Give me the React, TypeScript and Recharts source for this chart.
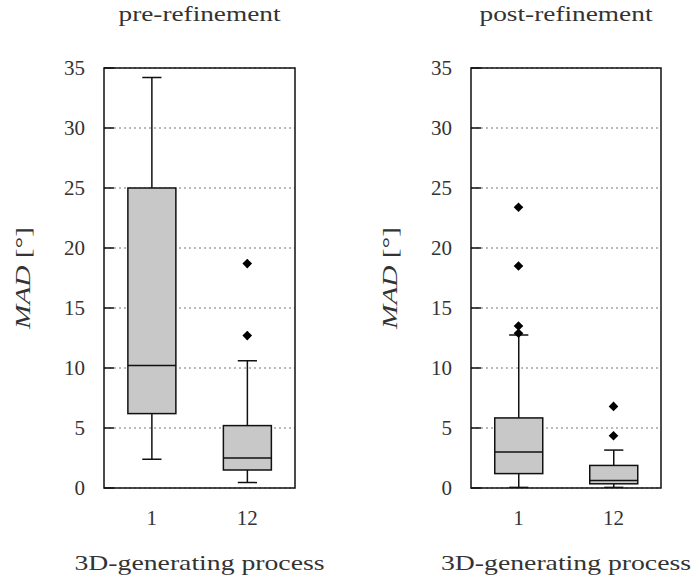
import {
  ComposedChart,
  Bar,
  Scatter,
  XAxis,
  YAxis,
  CartesianGrid,
  ReferenceArea,
  Label,
} from "recharts";

const categories = ["1", "12"];
const yTicks = [0, 5, 10, 15, 20, 25, 30, 35];

// pre-refinement boxes
const preLow = [2.4, 0.45];
const preQ1 = [6.2, 1.5];
const preMedian = [10.2, 2.5];
const preQ3 = [25.0, 5.2];
const preHigh = [34.2, 10.6];
const preOutlierCats = ["12", "12"];
const preOutlierValues = [12.7, 18.7];

// post-refinement boxes
const postLow = [0.05, 0.05];
const postQ1 = [1.2, 0.35];
const postMedian = [3.0, 0.63];
const postQ3 = [5.84, 1.88];
const postHigh = [12.75, 3.16];
const postOutlierCats = ["1", "1", "1", "1", "12", "12"];
const postOutlierValues = [12.9, 13.5, 18.5, 23.4, 4.35, 6.8];

const FONT = "'Liberation Serif', serif";
const TEXT = "#333";

const buildBoxes = (low, q1, med, q3, high) =>
  categories.map((name, i) => ({
    name,
    low: low[i],
    q1: q1[i],
    median: med[i],
    q3: q3[i],
    high: high[i],
  }));

const buildOutliers = (cats, values) =>
  cats.map((name, i) => ({ name, value: values[i] }));

// bar is drawn as range [low, high]; the inner values follow the same linear scale
function BoxShape(props: any) {
  const { x, y, width, height, payload } = props;
  const { low, q1, median, q3, high } = payload;
  const k = height / (high - low);
  const py = (v: number) => y + (high - v) * k;
  const cx = x + width / 2;
  const cap = width * 0.2;
  return (
    <g stroke="#111" strokeWidth={1.5}>
      <line x1={cx} x2={cx} y1={py(high)} y2={py(q3)} />
      <line x1={cx} x2={cx} y1={py(q1)} y2={py(low)} />
      <line x1={cx - cap} x2={cx + cap} y1={py(high)} y2={py(high)} />
      <line x1={cx - cap} x2={cx + cap} y1={py(low)} y2={py(low)} />
      <rect x={x} y={py(q3)} width={width} height={py(q1) - py(q3)} fill="#c8c8c8" />
      <line x1={x} x2={x + width} y1={py(median)} y2={py(median)} />
    </g>
  );
}

function Diamond(props: any) {
  const { cx, cy } = props;
  const r = 4.8;
  return (
    <polygon
      points={`${cx},${cy - r} ${cx + r},${cy} ${cx},${cy + r} ${cx - r},${cy}`}
      fill="#000"
    />
  );
}

function YLabel(props: any) {
  const { viewBox } = props;
  const x = viewBox.x + 23;
  const y = viewBox.y + viewBox.height / 2;
  return (
    <text
      x={x}
      y={y}
      transform={`rotate(-90 ${x} ${y})`}
      textAnchor="middle"
      dominantBaseline="central"
      fontFamily={FONT}
      fontSize={21}
      fill={TEXT}
      textLength={102}
      lengthAdjust="spacingAndGlyphs"
    >
      <tspan fontStyle="italic">MAD</tspan>
      <tspan> [°]</tspan>
    </text>
  );
}

function XLabel(props: any) {
  const { viewBox } = props;
  return (
    <text
      x={viewBox.x + viewBox.width / 2}
      y={viewBox.y + 82}
      textAnchor="middle"
      fontFamily={FONT}
      fontSize={21}
      fill={TEXT}
      textLength={250}
      lengthAdjust="spacingAndGlyphs"
    >
      3D-generating process
    </text>
  );
}

function Panel({ title, titleWidth, boxes, outliers, left, marginLeft, marginRight }) {
  const plotLeft = marginLeft + 104;
  const plotRight = 346 - marginRight;
  return (
    <div style={{ position: "absolute", left, top: 0, width: 346, height: 576 }}>
      <svg
        width={346}
        height={40}
        style={{ position: "absolute", left: 0, top: 0 }}
      >
        <text
          x={(plotLeft + plotRight) / 2}
          y={21}
          textAnchor="middle"
          fontFamily={FONT}
          fontSize={21}
          fill={TEXT}
          textLength={titleWidth}
          lengthAdjust="spacingAndGlyphs"
        >
          {title}
        </text>
      </svg>
      <ComposedChart
        width={346}
        height={576}
        data={boxes}
        margin={{ top: 68, right: marginRight, bottom: 28, left: marginLeft }}
        barCategoryGap="25%"
      >
        <CartesianGrid
          vertical={false}
          stroke="#777"
          strokeDasharray="2 3"
          strokeWidth={1}
        />
        <XAxis
          dataKey="name"
          type="category"
          allowDuplicatedCategory={false}
          axisLine={false}
          tickLine={false}
          tickSize={0}
          tickMargin={22}
          height={60}
          tick={{ fill: TEXT, fontSize: 21, fontFamily: FONT }}
        >
          <Label content={<XLabel />} />
        </XAxis>
        <YAxis
          type="number"
          domain={[0, 35]}
          ticks={yTicks}
          allowDataOverflow
          width={104}
          axisLine={false}
          tickSize={-10}
          tickMargin={29}
          tickLine={{ stroke: "#111", strokeWidth: 1.5 }}
          tick={{ fill: TEXT, fontSize: 21, fontFamily: FONT }}
        >
          <Label content={<YLabel />} />
        </YAxis>
        <Bar
          dataKey={(d) => [d.low, d.high]}
          shape={<BoxShape />}
          isAnimationActive={false}
        />
        <Scatter
          data={outliers}
          dataKey="value"
          shape={<Diamond />}
          isAnimationActive={false}
        />
        <ReferenceArea
          y1={0}
          y2={35}
          fill="none"
          stroke="#111"
          strokeWidth={1.5}
          fillOpacity={0}
          ifOverflow="visible"
        />
      </ComposedChart>
    </div>
  );
}

export default function App() {
  return (
    <div
      style={{
        position: "absolute",
        left: 0,
        top: 0,
        width: 692,
        height: 576,
        background: "#fff",
      }}
    >
      <Panel
        title="pre-refinement"
        titleWidth={162}
        boxes={buildBoxes(preLow, preQ1, preMedian, preQ3, preHigh)}
        outliers={buildOutliers(preOutlierCats, preOutlierValues)}
        left={0}
        marginLeft={0}
        marginRight={51}
      />
      <Panel
        title="post-refinement"
        titleWidth={173}
        boxes={buildBoxes(postLow, postQ1, postMedian, postQ3, postHigh)}
        outliers={buildOutliers(postOutlierCats, postOutlierValues)}
        left={346}
        marginLeft={21}
        marginRight={31}
      />
    </div>
  );
}
